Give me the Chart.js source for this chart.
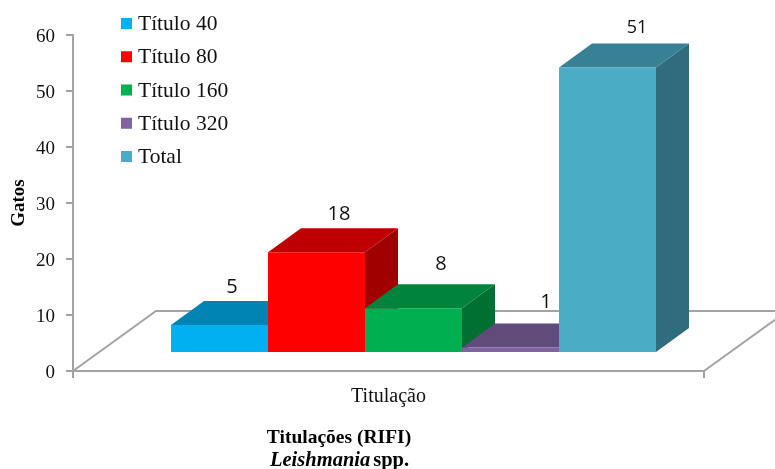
<!DOCTYPE html>
<html>
<head>
<meta charset="utf-8">
<title>Titulações (RIFI)</title>
<script src="https://cdn.jsdelivr.net/npm/chart.js@4"></script>
<style>
  html, body { margin: 0; padding: 0; background: #fff; }
  canvas { display: block; }
</style>
</head>
<body>
<canvas id="titulosChart" width="775" height="469"></canvas>
<script>
// ===== Dados =====
const categories = ['Titulação'];
const seriesNames = ['Título 40', 'Título 80', 'Título 160', 'Título 320', 'Total'];
const titulo40 = [5];
const titulo80 = [18];
const titulo160 = [8];
const titulo320 = [1];
const total = [51];
const yTicks = [0, 10, 20, 30, 40, 50, 60];

// ===== Estilo =====
const seriesColors = ['#00B0F0', '#FF0000', '#00B050', '#8064A2', '#4BACC6'];
const serif = '"Liberation Serif", "Times New Roman", serif';
const labelFont = '"Open Sans", "DejaVu Sans", sans-serif';
const lineColor = '#a3a3a3';

// profundidade do piso e da caixa de cada barra
const floorDepth = { x: 83, y: 60 };
const barDepth = { x: 33, y: 24 };
const frontShift = { x: 25, y: -18 };

// ajuste fino de cada rótulo em relação ao centro do topo da barra
const valueLabels = [
  { dx: -4, dy: -14, size: 20 },
  { dx: 6, dy: -14, size: 20 },
  { dx: 11, dy: -20, size: 20 },
  { dx: 19, dy: -21, size: 20 },
  { dx: 13, dy: -16, size: 18 }
];

function shade(hex, k) {
  const n = parseInt(hex.slice(1), 16);
  const r = Math.round(((n >> 16) & 255) * k);
  const g = Math.round(((n >> 8) & 255) * k);
  const b = Math.round((n & 255) * k);
  return `rgb(${r},${g},${b})`;
}

function fillPoly(ctx, color, pts) {
  ctx.fillStyle = color;
  ctx.beginPath();
  pts.forEach((p, i) => i ? ctx.lineTo(p[0], p[1]) : ctx.moveTo(p[0], p[1]));
  ctx.closePath();
  ctx.fill();
}

// ===== Piso, faces 3D, rótulos e legenda =====
const box3d = {
  id: 'box3d',
  beforeDatasetsDraw(chart) {
    const { ctx, chartArea: a } = chart;

    ctx.save();
    ctx.strokeStyle = lineColor;
    ctx.lineWidth = 2;
    ctx.beginPath();
    ctx.moveTo(a.left, a.bottom);
    ctx.lineTo(a.left + floorDepth.x, a.bottom - floorDepth.y);
    ctx.lineTo(a.right + floorDepth.x, a.bottom - floorDepth.y);
    ctx.lineTo(a.right, a.bottom);
    ctx.stroke();

    // topo e lateral, da esquerda para a direita
    chart.data.datasets.forEach((ds, i) => {
      const el = chart.getDatasetMeta(i).data[0];
      const right = el.x + el.width / 2 + frontShift.x;
      const left = right - el.width;
      const top = el.y + frontShift.y;
      const base = el.base + frontShift.y;
      const d = barDepth;
      fillPoly(ctx, shade(ds.backgroundColor, 0.63), [
        [right, top], [right + d.x, top - d.y], [right + d.x, base - d.y], [right, base]
      ]);
      fillPoly(ctx, shade(ds.backgroundColor, 0.75), [
        [left, top], [left + d.x, top - d.y], [right + d.x, top - d.y], [right, top]
      ]);
    });
    ctx.restore();

    // a face frontal é a própria barra do Chart.js, deslocada sobre o piso
    ctx.save();
    ctx.translate(frontShift.x, frontShift.y);
  },
  afterDatasetsDraw(chart) {
    const { ctx } = chart;
    ctx.restore();

    ctx.save();
    ctx.textAlign = 'center';
    ctx.textBaseline = 'middle';
    ctx.fillStyle = '#111';
    chart.data.datasets.forEach((ds, i) => {
      const el = chart.getDatasetMeta(i).data[0];
      const lab = valueLabels[i];
      ctx.font = `${lab.size}px ${labelFont}`;
      ctx.fillText(ds.data[0], el.x + frontShift.x + barDepth.x / 2 + lab.dx,
        el.y + frontShift.y - barDepth.y + lab.dy);
    });
    ctx.restore();
  },
  afterDraw(chart) {
    const { ctx } = chart;
    ctx.save();

    // legenda
    ctx.textBaseline = 'middle';
    ctx.textAlign = 'left';
    ctx.font = `21.5px ${serif}`;
    chart.data.datasets.forEach((ds, i) => {
      const y = 23.5 + i * 33.25;
      ctx.fillStyle = ds.backgroundColor;
      ctx.fillRect(121, y - 5.5, 11, 11);
      ctx.fillStyle = '#111';
      ctx.fillText(ds.label, 138, y + 1);
    });

    // título abaixo do gráfico
    ctx.fillStyle = '#000';
    ctx.textAlign = 'center';
    ctx.font = `bold 19.5px ${serif}`;
    ctx.fillText('Titulações (RIFI)', 339, 438);
    ctx.textAlign = 'left';
    ctx.font = `italic bold 20.5px ${serif}`;
    ctx.fillText('Leishmania', 270, 461);
    const w = ctx.measureText('Leishmania').width;
    ctx.font = `bold 20.5px ${serif}`;
    ctx.fillText('spp.', 270 + w + 3, 461);
    ctx.restore();
  }
};

const datasets = [titulo40, titulo80, titulo160, titulo320, total].map((data, i) => ({
  label: seriesNames[i],
  data: data,
  backgroundColor: seriesColors[i],
  borderWidth: 0,
  barPercentage: 1,
  categoryPercentage: 0.7686
}));

new Chart(document.getElementById('titulosChart'), {
  type: 'bar',
  data: { labels: categories, datasets: datasets },
  plugins: [box3d],
  options: {
    responsive: false,
    animation: false,
    layout: { padding: { top: 35, right: 71, left: 0, bottom: 0 } },
    plugins: {
      legend: { display: false },
      tooltip: { enabled: false }
    },
    scales: {
      x: {
        afterFit: s => { s.height = 98; },
        border: { color: lineColor, width: 2 },
        grid: { drawOnChartArea: false, color: lineColor, lineWidth: 2, tickLength: 7 },
        ticks: { color: '#111', padding: 7, font: { family: serif, size: 20 } }
      },
      y: {
        min: yTicks[0],
        max: yTicks[yTicks.length - 1],
        afterFit: s => { s.width = 73; },
        afterBuildTicks: s => { s.ticks = yTicks.map(v => ({ value: v })); },
        title: {
          display: true,
          text: 'Gatos',
          color: '#000',
          padding: { top: 8, bottom: 0 },
          font: { family: serif, size: 19, weight: 'bold' }
        },
        border: { color: lineColor, width: 2 },
        grid: { drawOnChartArea: false, color: lineColor, lineWidth: 2, tickLength: 7 },
        ticks: { color: '#111', padding: 11, labelOffset: 2, font: { family: serif, size: 19 } }
      }
    }
  }
});
</script>
</body>
</html>
